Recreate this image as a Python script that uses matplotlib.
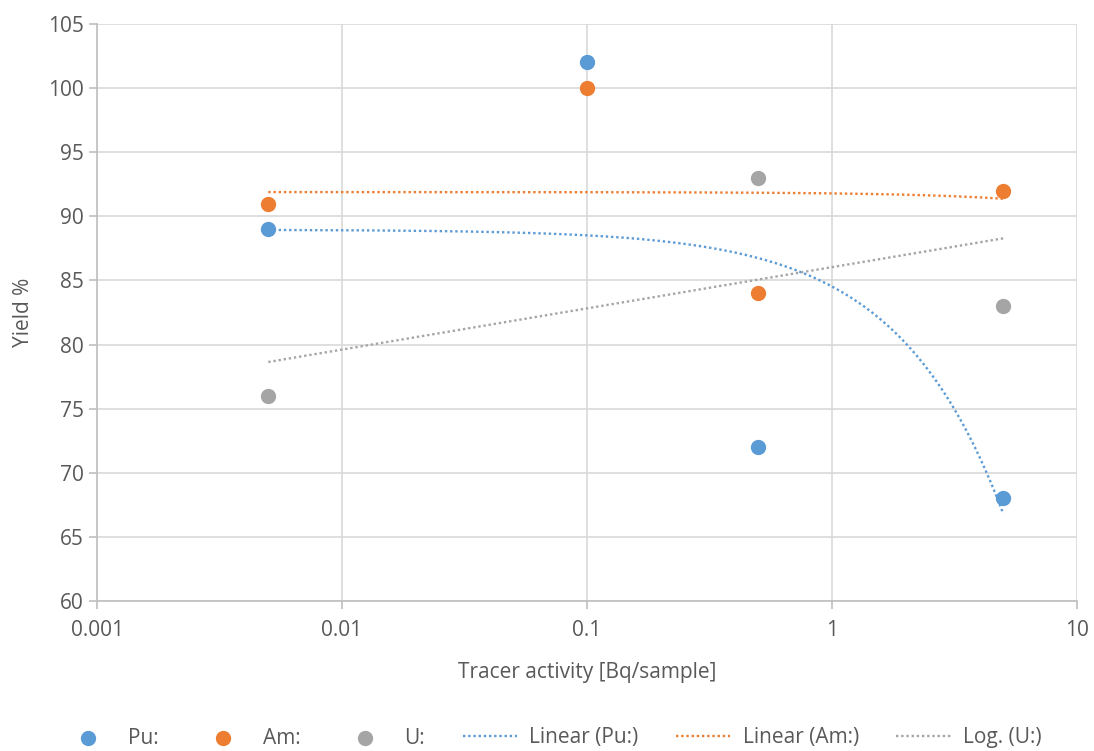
import numpy as np
import matplotlib.pyplot as plt

plt.rcParams['font.family'] = ['Open Sans', 'DejaVu Sans']

# tracer activity [Bq/sample] and measured yields
activity = [0.005, 0.1, 0.5, 5]
pu_yield = [89, 102, 72, 68]
am_yield = [91, 100, 84, 92]
u_activity = [0.005, 0.5, 5]
u_yield = [76, 93, 83]

c_pu = "#5B9BD5"
c_am = "#ED7D31"
c_u = "#A5A5A5"
txt = "#595959"
grid = "#D9D9D9"
fs = 15

fig = plt.figure(figsize=(10.94, 7.51), dpi=100)
ax = fig.add_axes([0.0887, 0.1997, 0.8958, 0.7683])

ax.scatter(activity, pu_yield, s=100, c=c_pu, zorder=3, label="Pu:")
ax.scatter(activity, am_yield, s=100, c=c_am, zorder=3, label="Am:")
ax.scatter(u_activity, u_yield, s=100, c=c_u, zorder=3, label="U:")

# trendlines: linear fits for Pu and Am, logarithmic fit for U
xx = np.linspace(min(activity), max(activity), 2000)
k, b = np.polyfit(activity, pu_yield, 1)
ax.plot(xx, k * xx + b, ls=(0, (1, 1.2)), lw=1.7, c=c_pu, label="Linear (Pu:)")
k, b = np.polyfit(activity, am_yield, 1)
ax.plot(xx, k * xx + b, ls=(0, (1, 1.2)), lw=1.7, c=c_am, label="Linear (Am:)")
k, b = np.polyfit(np.log(u_activity), u_yield, 1)
ax.plot(xx, k * np.log(xx) + b, ls=(0, (1, 1.2)), lw=1.7, c=c_u, label="Log. (U:)")

ax.set_xscale("log")
ax.set_xlim(0.001, 10)
ax.set_ylim(60, 105)
ax.set_yticks(range(60, 106, 5))
ax.set_xticks([0.001, 0.01, 0.1, 1, 10])
ax.set_xticklabels(["0.001", "0.01", "0.1", "1", "10"])
ax.minorticks_off()
ax.grid(True, color=grid, lw=1.2)
ax.set_axisbelow(True)
for s in ["top", "right"]:
    ax.spines[s].set_visible(False)
for s in ["left", "bottom"]:
    ax.spines[s].set_color("#BFBFBF")
    ax.spines[s].set_linewidth(1.2)
ax.tick_params(colors="#BFBFBF", labelcolor=txt, labelsize=fs, length=6, width=1.2)
ax.tick_params(axis="x", pad=8)

ax.set_xlabel("Tracer activity [Bq/sample]", fontsize=fs, color=txt, labelpad=15)
ax.set_ylabel("Yield %", fontsize=fs, color=txt, labelpad=10)

fig.legend(loc="center", bbox_to_anchor=(0.504, 1 - 738 / 751), ncol=6, frameon=False,
           fontsize=fs, labelcolor=txt, handlelength=2.6, columnspacing=1.8,
           handletextpad=0.6, scatterpoints=1)

fig.savefig("out.png", dpi=100)
